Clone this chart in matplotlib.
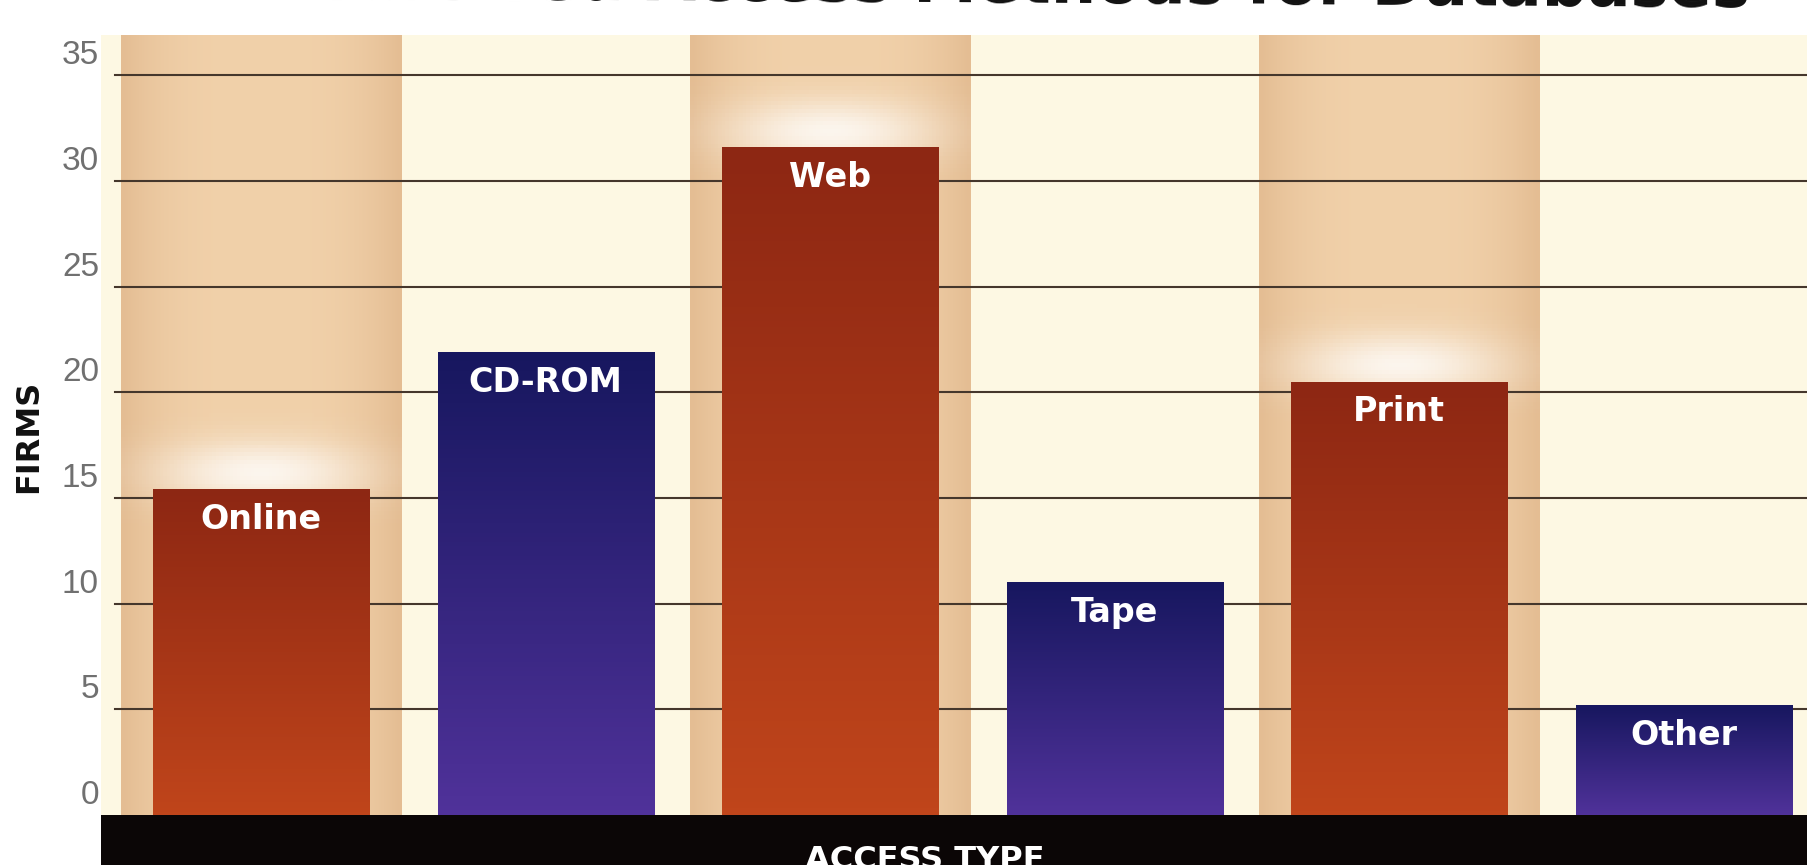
import numpy as np
import matplotlib
matplotlib.use("Agg")
import matplotlib.pyplot as plt
from matplotlib.colors import to_rgb

# data
categories = ['Online', 'CD-ROM', 'Web', 'Tape', 'Print', 'Other']
firms = [15.4, 21.9, 31.6, 11.0, 20.5, 5.2]
bar_kind = ['red', 'blue', 'red', 'blue', 'red', 'blue']
yticks = [0, 5, 10, 15, 20, 25, 30, 35]
title = 'Preferred Access Methods for Databases'
xlabel = 'ACCESS TYPE'
ylabel = 'FIRMS'

W, H = 1807, 865
fig = plt.figure(figsize=(W / 100, H / 100), dpi=100, facecolor='white')

# main plotting area, in pixel positions of the reference
ax = fig.add_axes([101 / W, 50 / H, 1706 / W, 780 / H])
ax.set_facecolor('#fdf8e3')
for s in ax.spines.values():
    s.set_visible(False)
ax.set_xticks([])
ax.set_yticks([])
ymax = 36.9
xlo, xhi = -0.563, 5.433

x = np.arange(len(categories))

# tan stripes behind every other category
edge = np.array(to_rgb('#e4bd93'))
mid = np.array(to_rgb('#f1d1aa'))
t = np.linspace(-1, 1, 60)
wgt = (np.abs(t) ** 3)[None, :, None]
stripe = mid * (1 - wgt) + edge * wgt
for i in x[::2]:
    ax.imshow(stripe, extent=(i - 0.493, i + 0.493, 0, ymax), aspect='auto',
              origin='lower', zorder=0.5, interpolation='bicubic')
    # soft glow just above the bar
    gx = np.linspace(i - 0.493, i + 0.493, 80)
    gy = np.linspace(0, ymax, 200)
    GX, GY = np.meshgrid(gx, gy)
    a = np.exp(-((GX - i) / 0.36) ** 2 - ((GY - (firms[i] + 0.8)) / 1.5) ** 2) * 0.8
    glow = np.ones((200, 80, 4))
    glow[..., 3] = a
    ax.imshow(glow, extent=(i - 0.493, i + 0.493, 0, ymax), aspect='auto',
              origin='lower', zorder=0.6)

# grid lines
for v in yticks[1:]:
    ax.axhline(v, xmin=14 / 1706, xmax=1, color='#45372c', lw=1.5, zorder=1)

# bars with vertical gradients
grad = {'red': ('#c0451b', '#8d2713'), 'blue': ('#50329a', '#17175f')}
bars = ax.bar(x, firms, width=0.76, color='none', zorder=2)
for b, k in zip(bars, bar_kind):
    bot, top = np.array(to_rgb(grad[k][0])), np.array(to_rgb(grad[k][1]))
    f = np.linspace(0, 1, 100)[:, None, None]
    img = bot * (1 - f) + top * f
    x0, y0 = b.get_x(), b.get_y()
    im = ax.imshow(img, extent=(x0, x0 + b.get_width(), y0, y0 + b.get_height()),
                   aspect='auto', origin='lower', zorder=2)
    im.set_clip_path(b)

for xi, v, lab in zip(x, firms, categories):
    ax.annotate(lab, (xi, v), xytext=(0, -30), textcoords='offset pixels',
                ha='center', va='center', color='white', fontsize=24,
                fontweight='bold', zorder=3)

ax.set_xlim(xlo, xhi)
ax.set_ylim(0, ymax)

# y tick labels sit just above their lines
for v in yticks:
    ax.annotate(str(v), xy=(0, v), xycoords=('axes fraction', 'data'),
                xytext=(-2, 4), textcoords='offset pixels', ha='right', va='bottom',
                fontsize=24, color='#707070', family='Liberation Sans',
                annotation_clip=False)

fig.text(29 / W, 1 - 436 / H, ylabel, rotation=90, ha='center', va='center',
         fontsize=23, fontweight='bold', color='#111111')

# black band with the axis title
band = fig.add_axes([101 / W, 0, 1706 / W, 50 / H])
band.set_facecolor('#0b0606')
band.set_xticks([])
band.set_yticks([])
for s in band.spines.values():
    s.set_visible(False)
band.text((925 - 101) / 1706, 1 - 30 / 50, xlabel, ha='center', va='top',
          color='white', fontsize=23, fontweight='bold', transform=band.transAxes)

# title cut off by the top edge
fig.text(1750 / W, 1 - 7 / H, title, ha='right', va='baseline', fontsize=46,
         fontweight='bold', color='#111111', rotation=-0.35, rotation_mode='anchor')

fig.savefig('out.png', dpi=100, facecolor='white')
